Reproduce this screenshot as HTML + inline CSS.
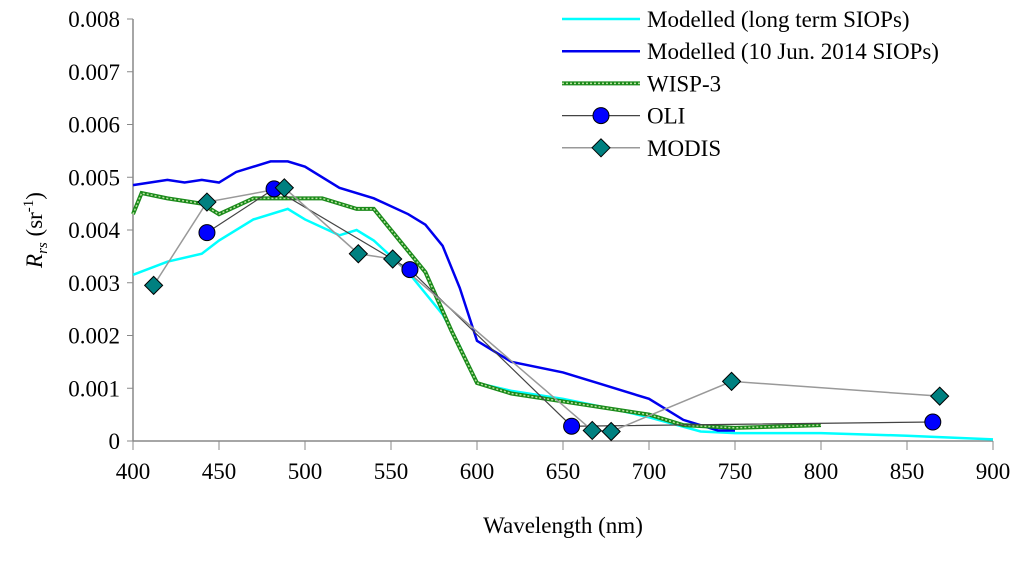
<!DOCTYPE html>
<html><head><meta charset="utf-8"><style>
body{margin:0;background:#fff;}
svg text{font-family:"Liberation Serif",serif;fill:#000;}
</style></head><body>
<svg id="c" width="1024" height="557" xmlns="http://www.w3.org/2000/svg"></svg>
<script>
const xTicks=[400,450,500,550,600,650,700,750,800,850,900];
const yTicks=[0,0.001,0.002,0.003,0.004,0.005,0.006,0.007,0.008];
const longTermWl=[400,420,440,450,470,490,500,520,530,540,560,580,590,600,620,650,680,700,730,750,800,850,900];
const longTermVal=[0.00315,0.0034,0.00355,0.0038,0.0042,0.0044,0.0042,0.0039,0.004,0.0038,0.0032,0.0024,0.0018,0.0011,0.00095,0.0008,0.0006,0.00045,0.00018,0.00015,0.00015,0.0001,0.00003];
const junWl=[400,410,420,430,440,450,460,480,490,500,520,540,560,570,580,590,600,620,650,670,700,720,740,750];
const junVal=[0.00485,0.0049,0.00495,0.0049,0.00495,0.0049,0.0051,0.0053,0.0053,0.0052,0.0048,0.0046,0.0043,0.0041,0.0037,0.0029,0.0019,0.0015,0.0013,0.0011,0.0008,0.0004,0.0002,0.0002];
const wispWl=[400,405,420,440,450,470,490,510,530,540,555,570,585,600,620,660,700,720,750,800];
const wispVal=[0.0043,0.0047,0.0046,0.0045,0.0043,0.0046,0.0046,0.0046,0.0044,0.0044,0.0038,0.0032,0.0021,0.0011,0.0009,0.0007,0.0005,0.0003,0.00025,0.0003];
const oliWl=[443,482,561,655,865];
const oliVal=[0.00395,0.00478,0.00325,0.00028,0.00036];
const modisWl=[412,443,488,531,551,667,678,748,869];
const modisVal=[0.00295,0.00453,0.0048,0.00355,0.00345,0.0002,0.00018,0.00113,0.00085];

const svg=document.getElementById('c');const NS='http://www.w3.org/2000/svg';
const X=v=>133+(v-400)*1.72;
const Y=v=>441-v*52750;
function mk(t,a,p){const e=document.createElementNS(NS,t);for(const k in a)e.setAttribute(k,a[k]);(p||svg).appendChild(e);return e;}
let ax=mk('line',{x1:133,y1:19,x2:133,y2:441,stroke:'#888','stroke-width':1.5});


let bx=mk('line',{x1:133,y1:441,x2:993,y2:441,stroke:'#888','stroke-width':1.5});


yTicks.forEach(v=>{mk('line',{x1:127,x2:133,y1:Y(v),y2:Y(v),stroke:'#888'});
 const t=mk('text',{x:120,y:Y(v)+8,'text-anchor':'end','font-size':23});t.textContent=v===0?'0':v.toFixed(3);
 
 });
xTicks.forEach(v=>{mk('line',{x1:X(v),x2:X(v),y1:441,y2:450,stroke:'#888'});
 const t=mk('text',{x:X(v),y:479,'text-anchor':'middle','font-size':23});t.textContent=v;
 
 });
let xt=mk('text',{x:563,y:533,'text-anchor':'middle','font-size':23});xt.textContent='Wavelength (nm)';


let yt=mk('text',{transform:'translate(42,230) rotate(-90)','text-anchor':'middle','font-size':23});
yt.innerHTML='<tspan font-style="italic">R</tspan><tspan font-style="italic" font-size="15" dy="5">rs</tspan><tspan dy="-5">  (sr</tspan><tspan font-size="15" dy="-9">-1</tspan><tspan dy="9">)</tspan>';


function pts(w,v){return w.map((x,i)=>X(x)+','+Y(v[i])).join(' ');}
let l1=mk('polyline',{points:pts(longTermWl,longTermVal),fill:'none',stroke:'#00ffff','stroke-width':2.5});


let l2=mk('polyline',{points:pts(junWl,junVal),fill:'none',stroke:'#0000ee','stroke-width':2.5});


let l3=mk('polyline',{points:pts(wispWl,wispVal),fill:'none',stroke:'#1a8a1a','stroke-width':4});


mk('polyline',{points:pts(wispWl,wispVal),fill:'none',stroke:'#b8e0a0','stroke-width':1.5,'stroke-dasharray':'2 2'});
let l4=mk('polyline',{points:pts(oliWl,oliVal),fill:'none',stroke:'#444','stroke-width':1.2});


let l5=mk('polyline',{points:pts(modisWl,modisVal),fill:'none',stroke:'#999','stroke-width':1.5});


function circ(x,y){return mk('circle',{cx:x,cy:y,r:8,fill:'#0000ff',stroke:'#000','stroke-width':1});}
function dia(x,y){return mk('polygon',{points:`${x},${y-9} ${x+9},${y} ${x},${y+9} ${x-9},${y}`,fill:'#008080',stroke:'#000','stroke-width':1});}
oliWl.forEach((w,i)=>{const c=circ(X(w),Y(oliVal[i]));
 
 });
modisWl.forEach((w,i)=>{const d=dia(X(w),Y(modisVal[i]));
 
 });
const labels=['Modelled (long term SIOPs)','Modelled (10 Jun. 2014 SIOPs)','WISP-3','OLI','MODIS'];
labels.forEach((s,i)=>{const y=19+i*32.2;const g=mk('g',{});
 
 
 if(i===0)mk('line',{x1:562,x2:640,y1:y,y2:y,stroke:'#00ffff','stroke-width':2.5},g);
 if(i===1)mk('line',{x1:562,x2:640,y1:y,y2:y,stroke:'#0000ee','stroke-width':2.5},g);
 if(i===2){mk('line',{x1:562,x2:640,y1:y,y2:y,stroke:'#1a8a1a','stroke-width':4},g);mk('line',{x1:562,x2:640,y1:y,y2:y,stroke:'#b8e0a0','stroke-width':1.5,'stroke-dasharray':'2 2'},g);}
 if(i===3){mk('line',{x1:562,x2:640,y1:y,y2:y,stroke:'#444','stroke-width':1.2},g);g.appendChild(circ(601,y));}
 if(i===4){mk('line',{x1:562,x2:640,y1:y,y2:y,stroke:'#999','stroke-width':1.5},g);g.appendChild(dia(601,y));}
 const t=mk('text',{x:647,y:y+8,'font-size':23},g);t.textContent=s;});
</script>
</body></html>
